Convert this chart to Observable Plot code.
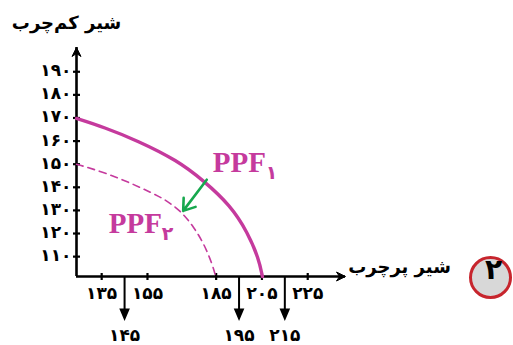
<!DOCTYPE html>
<html>
<head>
<meta charset="utf-8">
<script src="https://cdn.jsdelivr.net/npm/d3@7"></script>
<script src="https://cdn.jsdelivr.net/npm/@observablehq/plot@0.6"></script>
<style>
  html, body { margin: 0; padding: 0; background: #fff; }
</style>
</head>
<body>
<div id="chart"></div>
<script>
// ---- data ----
const yTitle = "شیر کم‌چرب";
const xTitle = "شیر پرچرب";
const badgeText = "۲";
const yTicks = [110, 120, 130, 140, 150, 160, 170, 180, 190];
const xTicksTop = [135, 155, 185, 205, 225];
const xTicksArrow = [145, 195, 215];
const xDomain = [124, 241.5];
const yDomain = [101.4, 200.5];
// PPF1 (solid)
const ppf1X = [124, 136, 150.6, 168.1, 179.5, 191.3, 198.8, 203.6, 205.2];
const ppf1Y = [169.8, 166.0, 160.2, 151.6, 142.9, 132.1, 120.4, 109.1, 101.4];
// PPF2 (dashed)
const ppf2X = [124, 136, 148, 156.4, 162.2, 169.5, 175.3, 179.7, 183.3, 184.8];
const ppf2Y = [150, 146.5, 141.7, 137.8, 135.0, 129.9, 122.7, 115.5, 106.8, 101.4];
// shift arrow
const shiftFrom = [180.9, 143.3];
const shiftTo = [170.6, 129.8];
// labels
const ppfLabels = ["PPF", "PPF"];
const ppfSubs = ["۱", "۲"];
const ppfLabelX = [183.5, 138.1];
const ppfLabelY = [150.5, 124.3];

// ---- helpers ----
const fa = n => String(n).replace(/\d/g, d => "۰۱۲۳۴۵۶۷۸۹"[+d]);
const MAG = "#c53a9d";
const GREEN = "#17a84e";
const FONT = "DejaVu Sans";

const hTick = { draw(ctx) { ctx.moveTo(-3.5, 0); ctx.lineTo(3.5, 0); } };
const vTick = { draw(ctx) { ctx.moveTo(0, -3.5); ctx.lineTo(0, 3.5); } };
const downArrow = { draw(ctx) {
  ctx.moveTo(0, 0); ctx.lineTo(0, 36);
  ctx.moveTo(-3.8, 33); ctx.lineTo(3.8, 33); ctx.lineTo(0, 42); ctx.closePath();
} };
const upHead = { draw(ctx) { ctx.moveTo(-4.5, 9); ctx.lineTo(0, 0); ctx.lineTo(4.5, 9); ctx.lineTo(0, 6); ctx.closePath(); } };
const rightHead = { draw(ctx) { ctx.moveTo(-9, -4.5); ctx.lineTo(0, 0); ctx.lineTo(-9, 4.5); ctx.lineTo(-6, 0); ctx.closePath(); } };

const ppf1 = ppf1X.map((x, i) => ({x, y: ppf1Y[i]}));
const ppf2 = ppf2X.map((x, i) => ({x, y: ppf2Y[i]}));
const labels = ppfLabels.map((t, i) => ({t, s: ppfSubs[i], x: ppfLabelX[i], y: ppfLabelY[i]}));
const [x0] = xDomain, [y0] = yDomain;

const chart = Plot.plot({
  width: 513,
  height: 345,
  marginLeft: 76,
  marginRight: 168,
  marginTop: 47,
  marginBottom: 69,
  x: { domain: xDomain, axis: null },
  y: { domain: yDomain, axis: null },
  style: { fontFamily: FONT, background: "#fff", overflow: "visible" },
  marks: [
    // axes lines
    Plot.ruleX([x0], { y1: yDomain[0], y2: yDomain[1], stroke: "black", strokeWidth: 2.6 }),
    Plot.ruleY([y0], { x1: xDomain[0], x2: xDomain[1], stroke: "black", strokeWidth: 2.6 }),
    Plot.dot([0], { x: () => x0, y: () => yDomain[1], symbol: upHead, fill: "black", stroke: "black", strokeWidth: 1, r: 5 }),
    Plot.dot([0], { x: () => xDomain[1], y: () => y0, symbol: rightHead, fill: "black", stroke: "black", strokeWidth: 1, r: 5 }),
    // y ticks
    Plot.dot(yTicks, { x: () => x0, y: d => d, symbol: hTick, stroke: "black", strokeWidth: 2.2, r: 3 }),
    Plot.text(yTicks, { x: () => x0, y: d => d, text: d => fa(d), textAnchor: "end", dx: -5, dy: -1, fontSize: 17, fontWeight: "bold", fill: "black" }),
    // x ticks
    Plot.dot(xTicksTop, { x: d => d, y: () => y0, symbol: vTick, stroke: "black", strokeWidth: 2.2, r: 3 }),
    Plot.text(xTicksTop, { x: d => d, y: () => y0, text: d => fa(d), dy: 17, fontSize: 17, fontWeight: "bold", fill: "black" }),
    Plot.dot(xTicksArrow, { x: d => d, y: () => y0, symbol: downArrow, stroke: "black", fill: "black", strokeWidth: 2, r: 3 }),
    Plot.text(xTicksArrow, { x: d => d, y: () => y0, text: d => fa(d), dy: 59, fontSize: 17, fontWeight: "bold", fill: "black" }),
    // curves
    Plot.line(ppf2, { x: "x", y: "y", curve: "basis", stroke: MAG, strokeWidth: 1.6, strokeDasharray: "7,5" }),
    Plot.line(ppf1, { x: "x", y: "y", curve: "basis", stroke: MAG, strokeWidth: 3.4 }),
    // shift arrow
    Plot.arrow([0], { x1: () => shiftFrom[0], y1: () => shiftFrom[1], x2: () => shiftTo[0], y2: () => shiftTo[1], stroke: GREEN, strokeWidth: 2.6, headLength: 10, headAngle: 70 }),
    // PPF labels
    Plot.text(labels, { x: "x", y: "y", text: "t", textAnchor: "start", fontFamily: "Liberation Serif", fontWeight: "bold", fontSize: 29, fill: MAG }),
    Plot.text(labels, { x: "x", y: "y", text: "s", textAnchor: "start", dx: 53, dy: 10, fontFamily: FONT, fontWeight: "bold", fontSize: 19, fill: MAG }),
    // titles
    Plot.text([yTitle], { frameAnchor: "top-left", text: d => d, textAnchor: "middle", dx: -10, dy: -31, fontSize: 18, fontWeight: "bold", fill: "black" }),
    Plot.text([xTitle], { frameAnchor: "bottom-right", text: d => d, textAnchor: "middle", dx: 54, dy: -4, fontSize: 18, fontWeight: "bold", fill: "black" }),
    // badge
    Plot.dot([0], { frameAnchor: "bottom-right", dx: 145, dy: 1, r: 20, fill: "#d8d8d8", stroke: "#c7252d", strokeWidth: 3 }),
    Plot.text([badgeText], { frameAnchor: "bottom-right", textAnchor: "middle", dx: 148, dy: 2, text: d => d, fontSize: 28, fontWeight: "bold", fill: "black" })
  ]
});
document.getElementById("chart").appendChild(chart);
</script>
</body>
</html>
